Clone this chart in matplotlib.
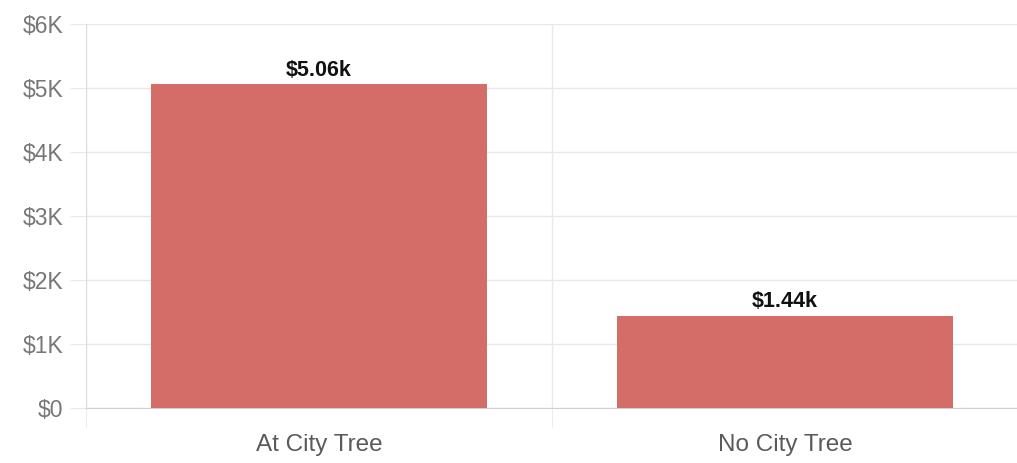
import numpy as np
import matplotlib.pyplot as plt
from matplotlib.ticker import FixedLocator

categories = ['At City Tree', 'No City Tree']
values = [5060, 1440]
value_labels = ['$5.06k', '$1.44k']
yticks = [0, 1000, 2000, 3000, 4000, 5000, 6000]
ytick_labels = ['$0', '$1K', '$2K', '$3K', '$4K', '$5K', '$6K']

plt.rcParams['font.family'] = ['Liberation Sans', 'DejaVu Sans']

fig = plt.figure(figsize=(10.17, 4.63), dpi=100)
ax = fig.add_axes([86 / 1017, 1 - 408 / 463, (1018 - 86) / 1017, (408 - 24) / 463])

x = np.arange(len(categories))
ax.bar(x, values, width=0.72, color='#d46c68', zorder=3)
for i, v in enumerate(values):
    ax.text(x[i], v + 55, value_labels[i], ha='center', va='bottom',
            fontsize=15.5, fontweight='bold', color='#111111', zorder=4)

ax.set_xlim(-0.5, 1.5)
ax.set_ylim(0, 6000)
ax.set_yticks(yticks)
ax.set_yticklabels(ytick_labels)
ax.set_xticks(x)
ax.set_xticklabels(categories)
ax.xaxis.set_minor_locator(FixedLocator([-0.5, 0.5, 1.5]))

ax.grid(axis='y', color='#e8e8e8', linewidth=1, zorder=0)
ax.grid(axis='x', which='minor', color='#e8e8e8', linewidth=1, zorder=0)
ax.tick_params(axis='y', length=11.5, color='#e8e8e8', labelsize=16.5, labelcolor='#777777', pad=5)
ax.tick_params(axis='x', which='major', length=0, labelsize=17.5, labelcolor='#5a5a5a', pad=19)
ax.tick_params(axis='x', which='minor', length=14, color='#e8e8e8')

for s in ['top', 'right']:
    ax.spines[s].set_visible(False)
ax.spines['left'].set_color('#dddddd')
ax.spines['bottom'].set_color('#d0d0d0')

fig.savefig('out.png', dpi=100)
